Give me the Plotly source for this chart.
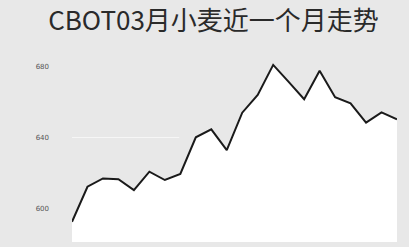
import plotly.graph_objects as go

days = list(range(1, 23))
prices = [592.4, 612.2, 616.9, 616.4, 610.3, 620.7, 616.0, 619.4, 640.1, 644.6, 632.9,
          654.0, 664.0, 681.0, 671.4, 661.6, 677.7, 662.7, 659.3, 648.4, 654.2, 650.3]
tick_vals = [600, 640, 680]
tick_text = ["600", "640", "680"]

BG = "#e8e8e8"
fig = go.Figure()
fig.add_trace(go.Scatter(
    x=days, y=prices, mode="lines",
    line=dict(color="#1a1a1a", width=2),
    fill="tozeroy", fillcolor="#ffffff",
    hoverinfo="skip",
))
fig.add_shape(type="line", xref="paper", yref="y", x0=0, x1=0.33,
              y0=tick_vals[1], y1=tick_vals[1],
              line=dict(color="#f6f6f6", width=1), layer="below")
fig.update_layout(
    width=409, height=247,
    margin=dict(l=72, r=12, t=50, b=5),
    paper_bgcolor=BG, plot_bgcolor=BG,
    showlegend=False,
    title=dict(text="CBOT03月小麦近一个月走势", x=0.522, xanchor="center",
               y=0.915, yanchor="middle",
               font=dict(family="Noto Sans CJK SC", size=26, color="#2a2a2a")),
    xaxis=dict(range=[days[0], days[-1]], showgrid=False, zeroline=False,
               showticklabels=False, ticks=""),
    yaxis=dict(range=[581, 689.4], tickvals=tick_vals, ticktext=tick_text,
               showgrid=False, zeroline=False, ticks="", ticklabelstandoff=22,
               automargin=False,
               tickfont=dict(family="DejaVu Sans", size=7, color="#555555")),
)
fig.write_html("out.html", config={"displayModeBar": False},
               post_script="document.body.style.margin='0';")
